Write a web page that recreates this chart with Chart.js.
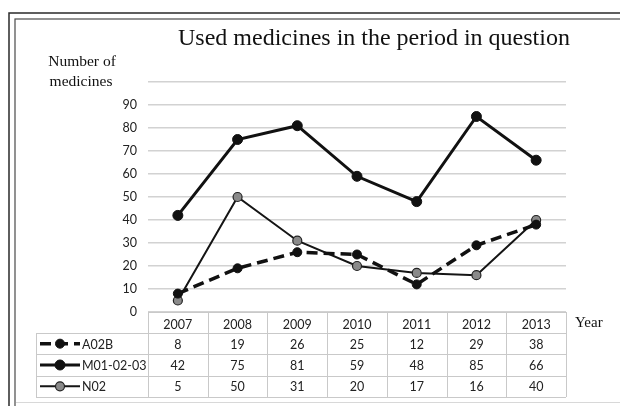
<!DOCTYPE html>
<html>
<head>
<meta charset="utf-8">
<script src="https://cdn.jsdelivr.net/npm/chart.js@4"></script>
<style>
  html, body { margin: 0; padding: 0; background: #fff; }
  #wrap { width: 620px; height: 406px; position: relative; }
</style>
</head>
<body>
<div id="wrap"><canvas id="c" width="620" height="406"></canvas></div>
<script>
const chartTitle = 'Used medicines in the period in question';
const yAxisTitle = ['Number of', 'medicines'];
const xAxisTitle = 'Year';
const years = ['2007', '2008', '2009', '2010', '2011', '2012', '2013'];
const seriesNames = ['A02B', 'M01-02-03', 'N02'];
const a02b = [8, 19, 26, 25, 12, 29, 38];
const m010203 = [42, 75, 81, 59, 48, 85, 66];
const n02 = [5, 50, 31, 20, 17, 16, 40];
const yMin = 0, yMax = 100, yStep = 10;
const hiddenTickLabels = [100];

const sansFont = 'Lato, "Open Sans", sans-serif';
const serifFont = '"Liberation Serif", "DejaVu Serif", serif';

const decorPlugin = {
  id: 'decor',
  beforeDraw(chart) {
    const ctx = chart.ctx;
    ctx.save();
    ctx.fillStyle = '#ffffff';
    ctx.fillRect(0, 0, chart.width, chart.height);
    // double frame
    ctx.strokeStyle = '#2a2a2a';
    ctx.lineWidth = 1.5;
    ctx.strokeRect(9, 13, 700, 500);
    ctx.strokeStyle = '#4a4a4a';
    ctx.lineWidth = 1.2;
    ctx.strokeRect(15, 19, 700, 500);
    ctx.strokeStyle = '#d8d8d8';
    ctx.lineWidth = 1;
    ctx.beginPath(); ctx.moveTo(16, 402.5); ctx.lineTo(620, 402.5); ctx.stroke();
    ctx.restore();
  },
  afterDraw(chart) {
    const ctx = chart.ctx;
    const area = chart.chartArea;
    const xs = chart.scales.x;
    ctx.save();
    // title
    ctx.fillStyle = '#111';
    ctx.textBaseline = 'alphabetic';
    ctx.textAlign = 'left';
    ctx.font = '24px ' + serifFont;
    ctx.fillText(chartTitle, 178, 45);
    // y axis title
    ctx.font = '15.5px ' + serifFont;
    ctx.textAlign = 'center';
    ctx.fillText(yAxisTitle[0], 82, 66);
    ctx.fillText(yAxisTitle[1], 81, 86);
    // x axis title
    ctx.textAlign = 'left';
    ctx.font = '15px ' + serifFont;
    ctx.fillText(xAxisTitle, 575, 327);

    // data table
    const left = area.left, right = area.right;
    const headTop = area.bottom, headBot = 333;
    const rowH = 21.33;
    const tableLeft = 36;
    const rowTops = [headBot, headBot + rowH, headBot + 2 * rowH];
    const tableBot = headBot + 3 * rowH;
    const colW = (right - left) / years.length;
    ctx.strokeStyle = '#c9c9c9';
    ctx.lineWidth = 1;
    ctx.beginPath();
    ctx.moveTo(left, Math.round(headTop) + 0.5); ctx.lineTo(right, Math.round(headTop) + 0.5);
    for (let r = 0; r <= 3; r++) {
      const y = Math.round(headBot + r * rowH) + 0.5;
      ctx.moveTo(tableLeft, y); ctx.lineTo(right, y);
    }
    ctx.moveTo(tableLeft + 0.5, headBot); ctx.lineTo(tableLeft + 0.5, tableBot);
    for (let c = 0; c <= years.length; c++) {
      const x = Math.round(left + c * colW) + 0.5;
      ctx.moveTo(x, headTop); ctx.lineTo(x, tableBot);
    }
    ctx.stroke();

    const dsets = chart.data.datasets;
    dsets.forEach((ds, i) => {
      const cy = rowTops[i] + rowH / 2;
      // legend symbol
      ctx.save();
      ctx.strokeStyle = ds.borderColor;
      ctx.lineWidth = ds.borderWidth;
      ctx.setLineDash(ds.borderDash || []);
      ctx.beginPath(); ctx.moveTo(40, cy); ctx.lineTo(80, cy); ctx.stroke();
      ctx.setLineDash([]);
      ctx.beginPath(); ctx.arc(60, cy, ds.pointRadius, 0, Math.PI * 2);
      ctx.fillStyle = ds.pointBackgroundColor; ctx.fill();
      ctx.lineWidth = ds.pointBorderWidth; ctx.strokeStyle = ds.pointBorderColor; ctx.stroke();
      ctx.restore();
      ctx.fillStyle = '#222';
      ctx.font = '12.5px ' + sansFont;
      ctx.textAlign = 'left';
      ctx.textBaseline = 'middle';
      ctx.fillText(ds.label, 82, cy + 1);
      ctx.textAlign = 'center';
      ds.data.forEach((v, j) => {
        ctx.fillText(String(v), xs.getPixelForValue(j), cy + 1);
      });
    });
    ctx.restore();
  }
};

new Chart(document.getElementById('c'), {
  type: 'line',
  data: {
    labels: years,
    datasets: [
      {
        label: seriesNames[0], data: a02b,
        borderColor: '#111', borderWidth: 3.5, borderDash: [11, 6],
        pointRadius: 4.5, pointBackgroundColor: '#111', pointBorderColor: '#111', pointBorderWidth: 1,
        tension: 0
      },
      {
        label: seriesNames[1], data: m010203,
        borderColor: '#111', borderWidth: 3,
        pointRadius: 5, pointBackgroundColor: '#111', pointBorderColor: '#111', pointBorderWidth: 1,
        tension: 0
      },
      {
        label: seriesNames[2], data: n02,
        borderColor: '#151515', borderWidth: 2,
        pointRadius: 4.5, pointBackgroundColor: '#8a8a8a', pointBorderColor: '#222', pointBorderWidth: 1.2,
        tension: 0
      }
    ]
  },
  options: {
    responsive: false,
    devicePixelRatio: 1,
    animation: false,
    layout: { padding: { top: 82, right: 54, bottom: 73, left: 0 } },
    plugins: { legend: { display: false }, title: { display: false }, tooltip: { enabled: false } },
    scales: {
      x: {
        type: 'category',
        offset: true,
        grid: { display: false, drawTicks: false },
        border: { display: false },
        ticks: { color: '#222', font: { family: sansFont, size: 12.5 }, padding: 5, maxRotation: 0, autoSkip: false },
        afterFit(scale) { scale.height = 21; }
      },
      y: {
        min: yMin, max: yMax,
        grid: { color: '#d2d2d2', lineWidth: 1.5, drawTicks: false },
        border: { display: false },
        ticks: {
          stepSize: yStep, padding: 11, color: '#222',
          font: { family: sansFont, size: 12.5 },
          callback: (v) => hiddenTickLabels.includes(v) ? '' : v
        },
        afterFit(scale) { scale.width = 148; }
      }
    }
  },
  plugins: [decorPlugin]
});
</script>
</body>
</html>
